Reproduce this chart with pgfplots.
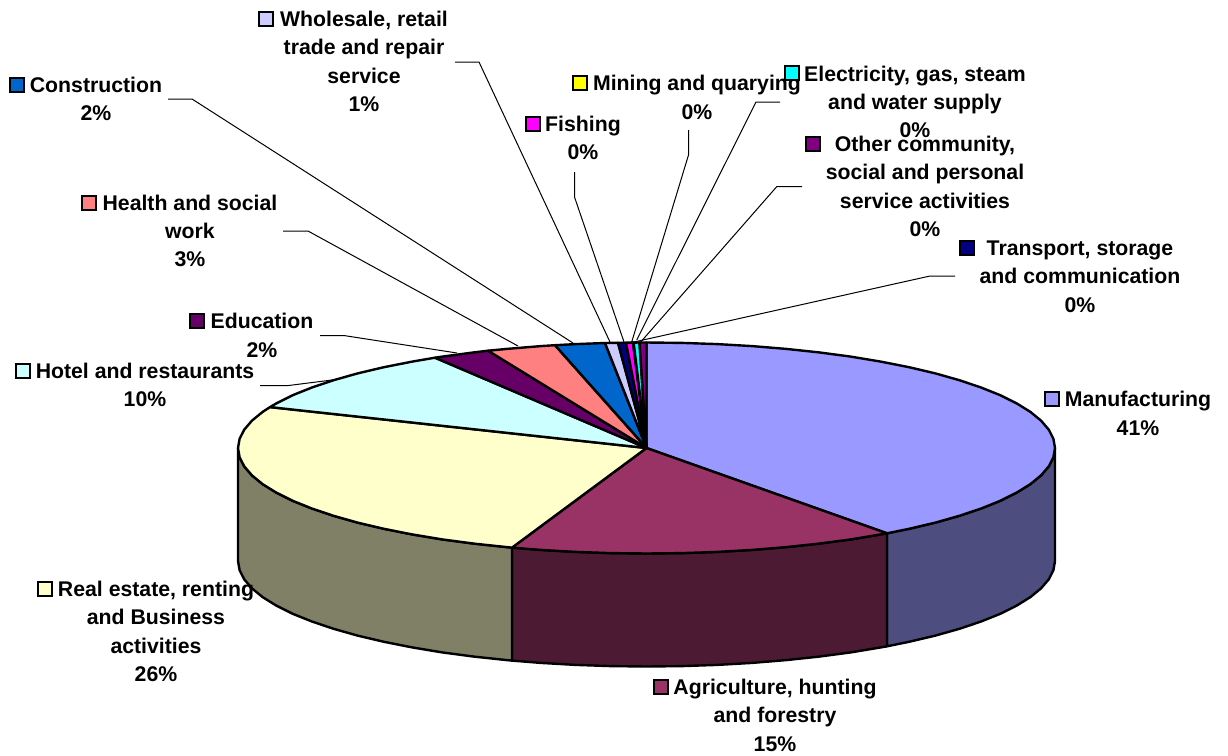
\documentclass[border=0pt]{standalone}
\usepackage{pgfplots}
\pgfplotsset{compat=1.18}
\usepackage{fontspec}
\setmainfont{Liberation Sans}
\definecolor{cMan}{HTML}{9999FF}\definecolor{cManS}{HTML}{4D4D80}
\definecolor{cAgr}{HTML}{993366}\definecolor{cAgrS}{HTML}{4D1A33}
\definecolor{cRea}{HTML}{FFFFCC}\definecolor{cReaS}{HTML}{808066}
\definecolor{cHot}{HTML}{CCFFFF}\definecolor{cEdu}{HTML}{660066}
\definecolor{cHea}{HTML}{FF8080}\definecolor{cCon}{HTML}{0066CC}
\definecolor{cWho}{HTML}{CCCCFF}\definecolor{cTra}{HTML}{000080}
\definecolor{cFis}{HTML}{FF00FF}\definecolor{cMin}{HTML}{FFFF00}
\definecolor{cEle}{HTML}{00FFFF}\definecolor{cOth}{HTML}{800080}
\pgfplotsset{
  slice/.style={draw=black,line width=2.4pt,line join=round,mark=none,forget plot},
  leader/.style={draw=black,line width=1pt,mark=none,forget plot},
  key/.style={only marks,mark=square*,mark size=6.6pt,forget plot,
     mark options={draw=black,line width=2pt,fill=#1}}}
\tikzset{lab/.style={font=\fontsize{21.25}{28.4}\selectfont\bfseries,align=center,inner sep=0pt,text=black}}
\begin{document}
\begin{tikzpicture}[x=1pt,y=1pt]
\useasboundingbox (0,0) rectangle (1228,755);
\begin{axis}[at={(0,0)},anchor=south west,scale only axis,width=1228pt,height=755pt,
  xmin=0,xmax=1228,ymin=0,ymax=755,y dir=reverse,hide axis,clip=false]
% leaders
\addplot[leader] coordinates {(168,99)(192,99)(573,343)};
\addplot[leader] coordinates {(283,231)(308,231)(518,346)};
\addplot[leader] coordinates {(320,335.7)(345,335.7)(457,353)};
\addplot[leader] coordinates {(260,385.7)(287,385.7)(340,379)};
\addplot[leader] coordinates {(455,62)(479,62)(610,342)};
\addplot[leader] coordinates {(574.5,172)(574.5,197)(624,342)};
\addplot[leader] coordinates {(688.5,130)(688.5,155)(631.7,342)};
\addplot[leader] coordinates {(780,102)(756,102)(636.7,340)};
\addplot[leader] coordinates {(802,186.7)(776.7,186.7)(640.7,342)};
\addplot[leader] coordinates {(955,276)(930,276)(634,342)};
% sides
\addplot[slice,fill=cManS] coordinates {(1055,448)(1053.4,457.2)(1048.8,466.3)(1041.1,475.3)(1030.4,484.1)(1016.7,492.6)(1000.3,500.8)(981.1,508.5)(959.4,515.8)(935.4,522.6)(909.1,528.8)(887,533.3)
 (887,646.3)(909.1,641.8)(935.4,635.6)(959.4,628.8)(981.1,621.5)(1000.3,613.8)(1016.7,605.6)(1030.4,597.1)(1041.1,588.3)(1048.8,579.3)(1053.4,570.2)(1055,561)} --cycle;
\addplot[slice,fill=cAgrS] coordinates {(887,533.3)(880.8,534.4)(850.8,539.4)(819.1,543.6)(786.2,547.1)(752.2,549.9)(717.4,551.9)(682.1,553.1)(646.5,553.5)(610.9,553.1)(575.6,551.9)(540.8,549.9)(512,547.6)
 (512,660.6)(540.8,662.9)(575.6,664.9)(610.9,666.1)(646.5,666.5)(682.1,666.1)(717.4,664.9)(752.2,662.9)(786.2,660.1)(819.1,656.6)(850.8,652.4)(880.8,647.4)(887,646.3)} --cycle;
\addplot[slice,fill=cReaS] coordinates {(512,547.6)(506.8,547.1)(473.9,543.6)(442.2,539.4)(412.2,534.4)(383.9,528.8)(357.6,522.6)(333.6,515.8)(311.9,508.5)(292.7,500.8)(276.3,492.6)(262.6,484.1)(251.9,475.3)(244.2,466.3)(239.6,457.2)(238,448)
 (238,561)(239.6,570.2)(244.2,579.3)(251.9,588.3)(262.6,597.1)(276.3,605.6)(292.7,613.8)(311.9,621.5)(333.6,628.8)(357.6,635.6)(383.9,641.8)(412.2,647.4)(442.2,652.4)(473.9,656.6)(506.8,660.1)(512,660.6)} --cycle;
% top slices
\addplot[slice,fill=cMan] coordinates {(646.5,448)(646.5,342.5)(682.1,342.9)(717.4,344.1)(752.2,346.1)(786.2,348.9)(819.1,352.4)(850.8,356.6)(880.8,361.6)(909.1,367.2)(935.4,373.4)(959.4,380.2)(981.1,387.5)(1000.3,395.2)(1016.7,403.4)(1030.4,411.9)(1041.1,420.7)(1048.8,429.7)(1053.4,438.8)(1055,448)(1053.4,457.2)(1048.8,466.3)(1041.1,475.3)(1030.4,484.1)(1016.7,492.6)(1000.3,500.8)(981.1,508.5)(959.4,515.8)(935.4,522.6)(909.1,528.8)(887,533.3)} --cycle;
\addplot[slice,fill=cAgr] coordinates {(646.5,448)(887,533.3)(880.8,534.4)(850.8,539.4)(819.1,543.6)(786.2,547.1)(752.2,549.9)(717.4,551.9)(682.1,553.1)(646.5,553.5)(610.9,553.1)(575.6,551.9)(540.8,549.9)(512,547.6)} --cycle;
\addplot[slice,fill=cRea] coordinates {(646.5,448)(512,547.6)(506.8,547.1)(473.9,543.6)(442.2,539.4)(412.2,534.4)(383.9,528.8)(357.6,522.6)(333.6,515.8)(311.9,508.5)(292.7,500.8)(276.3,492.6)(262.6,484.1)(251.9,475.3)(244.2,466.3)(239.6,457.2)(238,448)(239.6,438.8)(244.2,429.7)(251.9,420.7)(262.6,411.9)(270,407.1)} --cycle;
\addplot[slice,fill=cHot] coordinates {(646.5,448)(270,407.1)(276.3,403.4)(292.7,395.2)(311.9,387.5)(333.6,380.2)(357.6,373.4)(383.9,367.2)(412.2,361.6)(435,357.7)} --cycle;
\addplot[slice,fill=cEdu] coordinates {(646.5,448)(435,357.7)(442.2,356.6)(473.9,352.4)(488,350.7)} --cycle;
\addplot[slice,fill=cHea] coordinates {(646.5,448)(488,350.7)(506.8,348.9)(540.8,346.1)(555,345.2)} --cycle;
\addplot[slice,fill=cCon] coordinates {(646.5,448)(555,345.2)(575.6,344.1)(605,343)} --cycle;
\addplot[slice,fill=cWho] coordinates {(646.5,448)(605,343)(618,342.8)} --cycle;
\addplot[slice,fill=cTra] coordinates {(646.5,448)(618,342.8)(626,342.7)} --cycle;
\addplot[slice,fill=cFis] coordinates {(646.5,448)(626,342.7)(633,342.6)} --cycle;
\addplot[slice,fill=cMin] coordinates {(646.5,448)(633,342.6)(633.6,342.6)} --cycle;
\addplot[slice,fill=cEle] coordinates {(646.5,448)(633.6,342.6)(639.5,342.5)} --cycle;
\addplot[slice,fill=cOth] coordinates {(646.5,448)(639.5,342.5)(646.5,342.5)} --cycle;
% keys
\addplot[key=cWho] coordinates {(266,19)};
\addplot[key=cCon] coordinates {(17,85)};
\addplot[key=cMin] coordinates {(580,83)};
\addplot[key=cFis] coordinates {(533,124)};
\addplot[key=cEle] coordinates {(792,73)};
\addplot[key=cOth] coordinates {(813,144)};
\addplot[key=cTra] coordinates {(967,248)};
\addplot[key=cHea] coordinates {(89,203)};
\addplot[key=cEdu] coordinates {(197,321)};
\addplot[key=cHot] coordinates {(23,371)};
\addplot[key=cMan] coordinates {(1052,399)};
\addplot[key=cRea] coordinates {(45,589)};
\addplot[key=cAgr] coordinates {(661,687)};
% labels
\node[lab] at (axis cs:364,61.5) {Wholesale, retail\\trade and repair\\service\\1\%};
\node[lab] at (axis cs:96,99) {Construction\\2\%};
\node[lab] at (axis cs:697,97.5) {Mining and quarying\\0\%};
\node[lab] at (axis cs:583,138) {Fishing\\0\%};
\node[lab] at (axis cs:915,102) {Electricity, gas, steam\\and water supply\\0\%};
\node[lab] at (axis cs:925,186.5) {Other community,\\social and personal\\service activities\\0\%};
\node[lab] at (axis cs:1080,276.5) {Transport, storage\\and communication\\0\%};
\node[lab] at (axis cs:190,231) {Health and social\\work\\3\%};
\node[lab] at (axis cs:262,335.5) {Education\\2\%};
\node[lab] at (axis cs:145,385) {Hotel and restaurants\\10\%};
\node[lab] at (axis cs:1138,413.5) {Manufacturing\\41\%};
\node[lab] at (axis cs:156,631.5) {Real estate, renting\\and Business\\activities\\26\%};
\node[lab] at (axis cs:775,715) {Agriculture, hunting\\and forestry\\15\%};
\end{axis}
\end{tikzpicture}
\end{document}
